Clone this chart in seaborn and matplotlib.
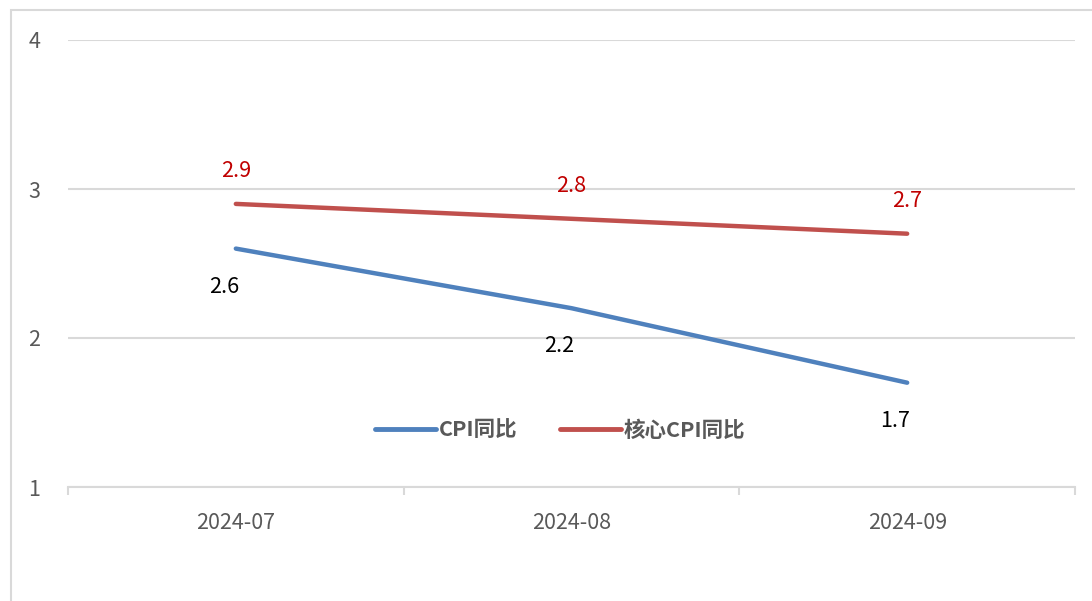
import matplotlib
matplotlib.use("Agg")
import matplotlib.pyplot as plt
import seaborn as sns
import pandas as pd
from matplotlib.patches import Rectangle

months = ["2024-07", "2024-08", "2024-09"]
cpi_yoy = [2.6, 2.2, 1.7]
core_cpi_yoy = [2.9, 2.8, 2.7]
series_names = ["CPI同比", "核心CPI同比"]
y_ticks = [1, 2, 3, 4]

sns.set_theme(style="white")
plt.rcParams['font.family'] = ['Noto Sans CJK SC', 'DejaVu Sans']

df = pd.DataFrame({
    "month": months * 2,
    "value": cpi_yoy + core_cpi_yoy,
    "series": [series_names[0]] * 3 + [series_names[1]] * 3,
})

W, H = 1092, 601
fig = plt.figure(figsize=(W / 100, H / 100), dpi=100)
fig.patch.set_facecolor("white")
# outer border of chart area
fig.patches.append(Rectangle((11 / W, -0.05), 1.2, 1 - 10 / H + 0.05,
                             transform=fig.transFigure, fill=False,
                             edgecolor="#D9D9D9", linewidth=1.5, zorder=0))

ax = fig.add_axes([68 / W, 1 - 487 / H, (1075 - 68) / W, (487 - 40) / H])
palette = {series_names[0]: "#4F81BD", series_names[1]: "#C0504D"}
sns.lineplot(data=df, x="month", y="value", hue="series", palette=palette,
             linewidth=3.2, ax=ax, sort=False, legend=True)

ax.set_xlim(-0.5, 2.5)
ax.set_ylim(1, 4)
ax.set_yticks(y_ticks)
ax.set_yticklabels([str(t) for t in y_ticks])
ax.set_xlabel("")
ax.set_ylabel("")
for s in ["top", "right", "left"]:
    ax.spines[s].set_visible(False)
ax.spines["bottom"].set_color("#D9D9D9")
ax.spines["bottom"].set_linewidth(1.5)
ax.grid(axis="y", color="#D9D9D9", linewidth=1.5)
ax.set_axisbelow(True)

ax.set_xticks(range(len(months)))
ax.set_xticklabels(months)
ax.set_xticks([-0.5, 0.5, 1.5, 2.5], minor=True)
ax.tick_params(axis="x", which="major", bottom=False, length=0, pad=18, labelsize=15.5, labelcolor="#595959")
ax.tick_params(axis="x", which="minor", bottom=True, length=6, width=1.5, color="#D9D9D9", direction="out")
ax.tick_params(axis="y", length=0, pad=20, labelsize=15.5, labelcolor="#595959")

for i, v in enumerate(core_cpi_yoy):
    ax.annotate(f"{v}", (i, v), xytext=(0, 22), textcoords="offset pixels",
                ha="center", va="bottom", color="#C00000", fontsize=15.5)
for i, v in enumerate(cpi_yoy):
    ax.annotate(f"{v}", (i, v), xytext=(-12, -27), textcoords="offset pixels",
                ha="center", va="top", color="black", fontsize=15.5)

leg = ax.legend(loc="center", bbox_to_anchor=(0.489, 0.1275), ncol=2, frameon=False,
                fontsize=15.5, handlelength=2.8, handletextpad=0.15, columnspacing=2.0)
for t in leg.get_texts():
    t.set_color("#595959")
    t.set_fontweight("bold")
for h in leg.get_lines():
    h.set_linewidth(3.5)
    h.set_solid_capstyle("round")

fig.savefig("out.png", dpi=100)
